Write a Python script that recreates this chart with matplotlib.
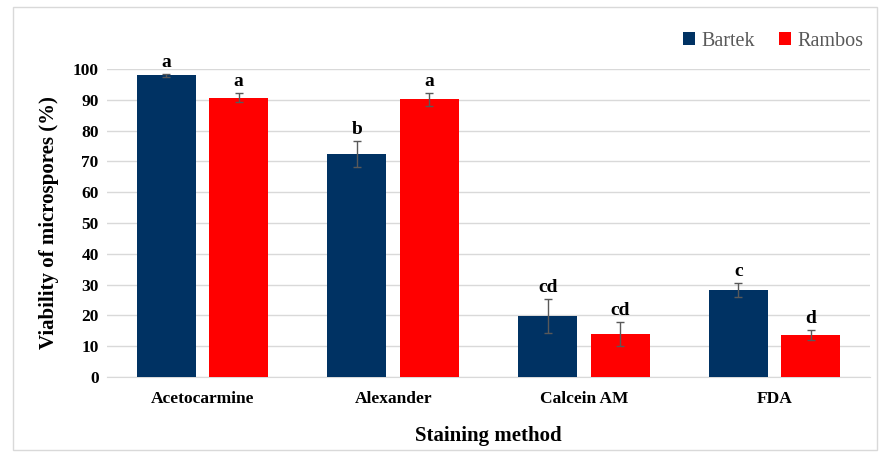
import numpy as np
import matplotlib.pyplot as plt
from matplotlib.patches import Rectangle

methods = ['Acetocarmine', 'Alexander', 'Calcein AM', 'FDA']
bartek = [98.0, 72.4, 19.8, 28.2]
bartek_err = [0.5, 4.3, 5.4, 2.2]
rambos = [90.7, 90.1, 14.0, 13.6]
rambos_err = [1.5, 2.2, 3.8, 1.6]
bartek_letters = ['a', 'b', 'cd', 'c']
rambos_letters = ['a', 'a', 'cd', 'd']

navy = '#003263'
red = '#ff0000'
serif = ['Liberation Serif', 'DejaVu Serif']

fig = plt.figure(figsize=(8.81, 4.57), dpi=100)
ax = fig.add_axes([107 / 881, 1 - 377 / 457, 763 / 881, 308 / 457])

# light frame round the whole chart
fig.patches.append(Rectangle((13 / 881, 7 / 457), 864 / 881, 443 / 457,
                             transform=fig.transFigure, fill=False,
                             edgecolor='#d9d9d9', linewidth=1.0))

x = np.arange(len(methods))
w = 0.31
off = 0.19
err_kw = dict(ecolor='#595959', elinewidth=1.0, capsize=3, capthick=1.0)
ax.bar(x - off, bartek, w, yerr=bartek_err, color=navy, label='Bartek',
       error_kw=err_kw, zorder=3)
ax.bar(x + off, rambos, w, yerr=rambos_err, color=red, label='Rambos',
       error_kw=err_kw, zorder=3)

for i in range(len(methods)):
    ax.text(x[i] - off, bartek[i] + bartek_err[i] + 1.0, bartek_letters[i],
            ha='center', va='bottom', fontsize=14, fontweight='bold', family=serif)
    ax.text(x[i] + off, rambos[i] + rambos_err[i] + 1.0, rambos_letters[i],
            ha='center', va='bottom', fontsize=14, fontweight='bold', family=serif)

ax.set_xlim(-0.5, len(methods) - 0.5)
ax.set_ylim(0, 100)
ax.set_yticks(np.arange(0, 101, 10))
ax.set_xticks(x)
ax.set_xticklabels(methods)
ax.yaxis.grid(True, color='#d9d9d9', linewidth=1.0, zorder=0)
ax.set_axisbelow(True)
for s in ['top', 'right', 'left']:
    ax.spines[s].set_visible(False)
ax.spines['bottom'].set_color('#d9d9d9')
ax.tick_params(axis='both', length=0, labelsize=12.5)
ax.tick_params(axis='y', pad=6)
ax.tick_params(axis='x', pad=10)
for t in ax.get_xticklabels() + ax.get_yticklabels():
    t.set_fontweight('bold')
    t.set_family(serif)

ax.set_ylabel('Viability of microspores (%)', fontsize=15, fontweight='bold',
              family=serif, labelpad=10)
ax.set_xlabel('Staining method', fontsize=15, fontweight='bold',
              family=serif, labelpad=14)

ax.legend(loc='lower right', bbox_to_anchor=(1.015, 1.0), ncol=2, frameon=False,
          prop={'family': serif, 'size': 14.5}, labelcolor='#595959',
          handlelength=0.6, handleheight=0.6, handletextpad=0.3, columnspacing=1.2)

fig.savefig('out.png', dpi=100)
